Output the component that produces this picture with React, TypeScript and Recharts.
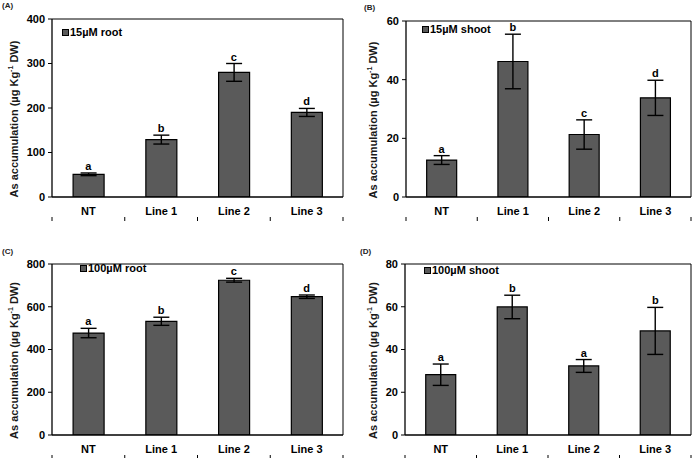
import {
  ComposedChart,
  Bar,
  Line,
  Scatter,
  XAxis,
  YAxis,
  ErrorBar,
  LabelList,
  Legend,
} from "recharts";

const categories = ["NT", "Line 1", "Line 2", "Line 3"];
// category boundaries for the small tick marks under the x axis
const edges = [0, 1, 2, 3, 4];

const root15 = [51, 129, 280, 190];
const root15Err = [3, 10, 20, 9];
const root15Sig = ["a", "b", "c", "d"];

const shoot15 = [12.6, 46.2, 21.3, 33.8];
const shoot15Err = [1.5, 9.3, 5, 6];
const shoot15Sig = ["a", "b", "c", "d"];

const root100 = [477, 532, 724, 647];
const root100Err = [22, 19, 9, 8];
const root100Sig = ["a", "b", "c", "d"];

const shoot100 = [28.2, 59.9, 32.3, 48.7];
const shoot100Err = [5, 5.5, 3, 11];
const shoot100Sig = ["a", "b", "a", "b"];

const FONT = "'Liberation Sans', Arial, sans-serif";

function buildRows(values: number[], errs: number[], sig: string[]) {
  return categories.map((name, i) => ({
    name,
    value: values[i],
    err: errs[i],
    top: values[i] + errs[i],
    sig: sig[i],
  }));
}

const edgeRows = edges.map((e) => ({ pos: e, zero: 0 }));

function YLabel(props: any) {
  const { viewBox, lx } = props;
  const x = viewBox.x + lx;
  const y = viewBox.y + viewBox.height / 2 + 11;
  return (
    <text
      x={x}
      y={y}
      transform={`rotate(-90, ${x}, ${y})`}
      textAnchor="middle"
      dominantBaseline="central"
      fontFamily={FONT}
      fontWeight="bold"
      fontSize={11}
      fill="#1a1a1a"
    >
      As accumulation (µg Kg
      <tspan dy={-4} fontSize={7}>-1</tspan>
      <tspan dy={4}> DW)</tspan>
    </text>
  );
}

interface PanelProps {
  tag: string;
  legend: string;
  rows: ReturnType<typeof buildRows>;
  max: number;
  ticks: number[];
  left: number;
  top: number;
  marginTop: number;
  marginBottom: number;
  yWidth: number;
  labelX: number;
  legendLeft: number;
  legendTop: number;
  tagLeft: number;
  tagTop: number;
}

function Panel(p: PanelProps) {
  const tickStyle = { fontSize: 11, fontWeight: "bold", fill: "#000", fontFamily: FONT };
  return (
    <div style={{ position: "absolute", left: p.left, top: p.top, width: 348, height: 229 }}>
      <div
        style={{
          position: "absolute",
          left: p.tagLeft,
          top: p.tagTop,
          fontFamily: FONT,
          fontWeight: "bold",
          fontSize: 8,
          color: "#222",
        }}
      >
        {p.tag}
      </div>
      <ComposedChart
        width={348}
        height={229}
        data={p.rows}
        margin={{ top: p.marginTop - 1, right: 4, left: 0, bottom: p.marginBottom - 1 }}
        barCategoryGap="29%"
      >
        <XAxis
          xAxisId="edges"
          type="number"
          dataKey="pos"
          domain={[0, 4]}
          ticks={edges}
          allowDataOverflow
          tick={() => <g />}
          tickSize={4}
          height={1}
          axisLine={false}
          tickLine={{ stroke: "#000", strokeWidth: 1 }}
        />
        <XAxis
          dataKey="name"
          tick={tickStyle}
          tickLine={false}
          tickSize={4}
          tickMargin={6}
          height={20}
          axisLine={{ stroke: "#000", strokeWidth: 1.3 }}
        />
        <XAxis
          xAxisId="top"
          orientation="top"
          dataKey="name"
          height={1}
          tick={false}
          tickLine={false}
          axisLine={{ stroke: "#000", strokeWidth: 1 }}
        />
        <YAxis
          domain={[0, p.max]}
          ticks={p.ticks}
          allowDataOverflow
          width={p.yWidth}
          tick={tickStyle}
          tickSize={4}
          tickMargin={3}
          tickLine={{ stroke: "#000", strokeWidth: 1 }}
          axisLine={{ stroke: "#000", strokeWidth: 1.3 }}
          label={{ content: (lp: any) => <YLabel {...lp} lx={p.labelX} /> }}
        />
        <YAxis
          yAxisId="right"
          orientation="right"
          domain={[0, p.max]}
          allowDataOverflow
          width={1}
          tick={false}
          tickLine={false}
          axisLine={{ stroke: "#000", strokeWidth: 1 }}
        />
        <Legend
          verticalAlign="top"
          align="left"
          wrapperStyle={{ position: "absolute", left: p.legendLeft, top: p.legendTop, width: "auto" }}
          content={() => (
            <div style={{ display: "flex", alignItems: "center", fontFamily: FONT, fontWeight: "bold", fontSize: 11 }}>
              <span
                style={{
                  display: "inline-block",
                  width: 5,
                  height: 5,
                  background: "#5a5a5a",
                  border: "1px solid #000",
                  marginRight: 1,
                }}
              />
              <span>{p.legend}</span>
            </div>
          )}
        />
        <Bar
          dataKey="value"
          name={p.legend}
          fill="#5a5a5a"
          stroke="#000"
          strokeWidth={1.2}
          isAnimationActive={false}
        >
          <ErrorBar dataKey="err" width={8} stroke="#000" strokeWidth={1.4} />
        </Bar>
        <Line
          xAxisId="top"
          dataKey="top"
          stroke="none"
          dot={false}
          activeDot={false}
          legendType="none"
          isAnimationActive={false}
        >
          <LabelList
            dataKey="sig"
            position="top"
            offset={3}
            style={{ fontSize: 11, fontWeight: "bold", fill: "#000", fontFamily: FONT }}
          />
        </Line>
        <Scatter
          xAxisId="edges"
          yAxisId="right"
          data={edgeRows}
          dataKey="zero"
          shape={() => <g />}
          legendType="none"
          isAnimationActive={false}
        />
      </ComposedChart>
    </div>
  );
}

export default function App() {
  return (
    <div style={{ position: "absolute", left: 0, top: 0, width: 696, height: 458, background: "#fff" }}>
      <Panel
        tag="(A)"
        legend="15µM root"
        rows={buildRows(root15, root15Err, root15Sig)}
        max={400}
        ticks={[0, 100, 200, 300, 400]}
        left={0}
        top={0}
        marginTop={7}
        marginBottom={12}
        yWidth={52}
        labelX={14}
        legendLeft={62}
        legendTop={26}
        tagLeft={2}
        tagTop={1}
      />
      <Panel
        tag="(B)"
        legend="15µM shoot"
        rows={buildRows(shoot15, shoot15Err, shoot15Sig)}
        max={60}
        ticks={[0, 20, 40, 60]}
        left={348}
        top={0}
        marginTop={9}
        marginBottom={12}
        yWidth={58}
        labelX={25}
        legendLeft={74}
        legendTop={23}
        tagLeft={16}
        tagTop={3}
      />
      <Panel
        tag="(C)"
        legend="100µM root"
        rows={buildRows(root100, root100Err, root100Sig)}
        max={800}
        ticks={[0, 200, 400, 600, 800]}
        left={0}
        top={229}
        marginTop={23}
        marginBottom={3}
        yWidth={52}
        labelX={14}
        legendLeft={80}
        legendTop={33}
        tagLeft={2}
        tagTop={18}
      />
      <Panel
        tag="(D)"
        legend="100µM shoot"
        rows={buildRows(shoot100, shoot100Err, shoot100Sig)}
        max={80}
        ticks={[0, 20, 40, 60, 80]}
        left={348}
        top={229}
        marginTop={23}
        marginBottom={3}
        yWidth={57}
        labelX={25}
        legendLeft={76}
        legendTop={35}
        tagLeft={12}
        tagTop={18}
      />
    </div>
  );
}
